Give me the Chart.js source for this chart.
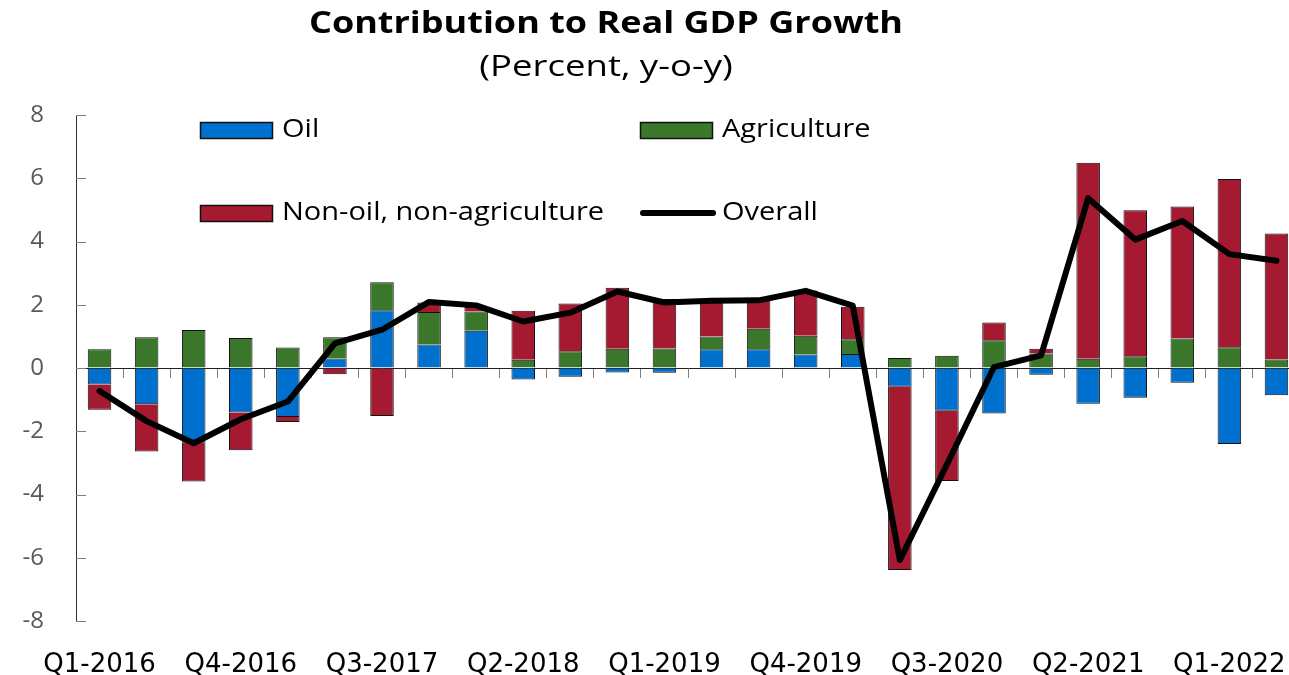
<!DOCTYPE html>
<html>
<head>
<meta charset="utf-8">
<script src="https://cdn.jsdelivr.net/npm/chart.js@4.4.1/dist/chart.umd.min.js"></script>
<style>
  html, body { margin: 0; padding: 0; background: #ffffff; overflow: hidden; }
  #wrap { position: relative; width: 1300px; height: 675px; }
  #title { position: absolute; left: 0; width: 1212px; top: 2px; text-align: center;
           font-family: "Open Sans", sans-serif; font-weight: bold; font-size: 30px; color: #000; line-height: 40px;
           transform: scaleX(1.2); transform-origin: 606px 50%; }
  #subtitle { position: absolute; left: 0; width: 1212px; top: 45px; text-align: center;
              font-family: "Open Sans", sans-serif; font-size: 29px; color: #000; line-height: 40px;
              transform: scaleX(1.26); transform-origin: 606px 50%; }
</style>
</head>
<body>
<div id="wrap">
  <div id="title">Contribution to Real GDP Growth</div>
  <div id="subtitle">(Percent, y-o-y)</div>
  <canvas id="c"></canvas>
</div>
<script>
// ---- data ----
const categories = ['Q1-2016','Q2-2016','Q3-2016','Q4-2016','Q1-2017','Q2-2017','Q3-2017','Q4-2017',
  'Q1-2018','Q2-2018','Q3-2018','Q4-2018','Q1-2019','Q2-2019','Q3-2019','Q4-2019',
  'Q1-2020','Q2-2020','Q3-2020','Q4-2020','Q1-2021','Q2-2021','Q3-2021','Q4-2021','Q1-2022','Q2-2022'];
const shownTickLabels = ['Q1-2016','Q4-2016','Q3-2017','Q2-2018','Q1-2019','Q4-2019','Q3-2020','Q2-2021','Q1-2022'];
const yTickValues = [-8,-6,-4,-2,0,2,4,6,8];
const oil = [-0.52,-1.15,-2.36,-1.41,-1.55,0.30,1.83,0.74,1.18,-0.36,-0.28,-0.14,-0.15,0.59,0.59,0.43,0.44,-0.59,-1.35,-1.44,-0.21,-1.13,-0.94,-0.47,-2.40,-0.86];
const agriculture = [0.59,0.97,1.20,0.95,0.65,0.67,0.88,1.03,0.61,0.26,0.53,0.61,0.62,0.41,0.65,0.59,0.47,0.32,0.39,0.88,0.46,0.29,0.37,0.93,0.66,0.27];
const nonOilNonAgri = [-0.80,-1.49,-1.23,-1.19,-0.16,-0.20,-1.52,0.30,0.14,1.55,1.51,1.93,1.56,1.15,0.91,1.43,1.03,-5.80,-2.22,0.56,0.15,6.20,4.62,4.18,5.32,3.98];
const overall = [-0.73,-1.68,-2.38,-1.62,-1.06,0.78,1.21,2.09,1.98,1.47,1.75,2.42,2.07,2.13,2.14,2.44,1.97,-6.07,-3.05,0.03,0.40,5.37,4.06,4.65,3.60,3.39];

const FONT = '"Open Sans", sans-serif';

const yInnerTicks = {
  id: 'yInnerTicks',
  afterDatasetsDraw(chart) {
    const y = chart.scales.y, left = chart.chartArea.left, ctx = chart.ctx;
    ctx.save();
    ctx.strokeStyle = '#7f7f7f';
    ctx.lineWidth = 1;
    y.ticks.forEach(t => {
      const py = Math.round(y.getPixelForValue(t.value)) + 0.5;
      ctx.beginPath(); ctx.moveTo(left, py); ctx.lineTo(left + 10, py); ctx.stroke();
    });
    ctx.restore();
  }
};

const customLegend = {
  id: 'customLegend',
  afterDraw(chart) {
    const ctx = chart.ctx;
    const ds = chart.data.datasets;
    const slots = [[200,130],[640,130],[200,213],[640,213]];
    ctx.save();
    ctx.font = '25px ' + FONT;
    ctx.textBaseline = 'middle';
    ds.forEach((d, i) => {
      const [x, y] = slots[i];
      if (d.type === 'line') {
        ctx.strokeStyle = d.borderColor; ctx.lineWidth = 6; ctx.lineCap = 'round';
        ctx.beginPath(); ctx.moveTo(643, y); ctx.lineTo(713, y); ctx.stroke();
      } else {
        ctx.fillStyle = d.backgroundColor;
        ctx.fillRect(x, y - 8, 73, 17);
        ctx.strokeStyle = '#111'; ctx.lineWidth = 1.5;
        ctx.strokeRect(x + 0.5, y - 8 + 0.5, 72, 16);
      }
      ctx.fillStyle = '#000';
      ctx.save();
      ctx.translate(x + 82, y);
      ctx.scale(1.16, 1);
      ctx.fillText(d.label, 0, 0);
      ctx.restore();
    });
    ctx.restore();
  }
};

new Chart(document.getElementById('c'), {
  data: {
    labels: categories,
    datasets: [
      { type: 'bar', label: 'Oil', data: oil, backgroundColor: '#0070CE', borderColor: '#111', borderWidth: 1, order: 1, stack: 'bars', xAxisID: 'x' },
      { type: 'bar', label: 'Agriculture', data: agriculture, backgroundColor: '#3B772A', borderColor: '#111', borderWidth: 1, order: 1, stack: 'bars', xAxisID: 'x' },
      { type: 'bar', label: 'Non-oil, non-agriculture', data: nonOilNonAgri, backgroundColor: '#A51A30', borderColor: '#111', borderWidth: 1, order: 1, stack: 'bars', xAxisID: 'x' },
      { type: 'line', label: 'Overall', data: overall, borderColor: '#000', backgroundColor: '#000', borderWidth: 6, pointRadius: 0, tension: 0, borderCapStyle: 'round', borderJoinStyle: 'round', order: 0, stack: 'line', xAxisID: 'x' }
    ]
  },
  options: {
    responsive: true,
    maintainAspectRatio: false,
    animation: false,
    layout: { padding: { top: 115, left: 0, right: 0, bottom: 0 } },
    datasets: { bar: { barPercentage: 0.5, categoryPercentage: 1.0 } },
    plugins: { legend: { display: false }, title: { display: false }, tooltip: { enabled: false } },
    scales: {
      x: {
        type: 'category', position: { y: 0 }, offset: true, stacked: true,
        grid: { display: true, offset: true, drawOnChartArea: false, drawTicks: true, tickLength: 9, color: '#7f7f7f' },
        border: { display: true, color: '#222', width: 1 },
        ticks: { display: false }
      },
      x2: {
        type: 'category', position: 'bottom', offset: true,
        grid: { display: false }, border: { display: false },
        ticks: {
          autoSkip: false, maxRotation: 0, minRotation: 0, padding: 21, color: '#000',
          font: { family: '"DejaVu Sans", sans-serif', size: 26 },
          callback: function(v, i) { const l = categories[i]; return shownTickLabels.includes(l) ? l : ''; }
        },
        afterFit(s) { s.height = 54; }
      },
      y: {
        type: 'linear', position: 'left', stacked: true, min: -8, max: 8,
        afterBuildTicks(s) { s.ticks = yTickValues.map(v => ({ value: v })); },
        grid: { display: true, drawOnChartArea: false, drawTicks: false },
        border: { display: true, color: '#333', width: 1 },
        ticks: { padding: 32, color: '#595959', font: { family: FONT, size: 24 } },
        afterFit(s) { s.width = 76; }
      }
    }
  },
  plugins: [yInnerTicks, customLegend]
});
</script>
</body>
</html>
